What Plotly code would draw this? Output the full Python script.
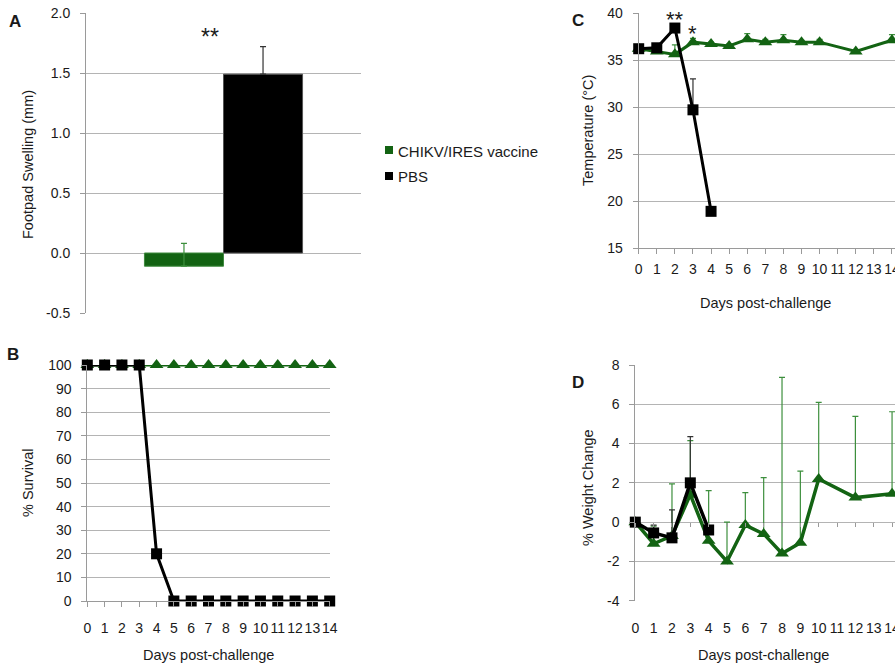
import plotly.graph_objects as go

W, H = 895, 668
GREEN = "#136313"
GREEN_ERR = "#3d8f3d"
BLACK = "#000000"
GRID = "#b4b4b4"
AXIS = "#9a9a9a"
TXT = "#1a1a1a"
FONT = "Liberation Sans, Arial, sans-serif"

# ---------------- data ----------------
group_names = ["CHIKV/IRES vaccine", "PBS"]
footpad_mean = [-0.11, 1.49]
footpad_err = [0.19, 0.23]
footpad_ticks = [-0.5, 0.0, 0.5, 1.0, 1.5, 2.0]
footpad_labels = ["-0.5", "0.0", "0.5", "1.0", "1.5", "2.0"]

survival_days = [0, 1, 2, 3, 4, 5, 6, 7, 8, 9, 10, 11, 12, 13, 14]
survival_vaccine = [100, 100, 100, 100, 100, 100, 100, 100, 100, 100, 100, 100, 100, 100, 100]
survival_pbs = [100, 100, 100, 100, 20, 0, 0, 0, 0, 0, 0, 0, 0, 0, 0]

day_ticks = [0, 1, 2, 3, 4, 5, 6, 7, 8, 9, 10, 11, 12, 13, 14]
day_labels = ["0", "1", "2", "3", "4", "5", "6", "7", "8", "9", "10", "11", "12", "13", "14"]

vaccine_days = [0, 1, 2, 3, 4, 5, 6, 7, 8, 9, 10, 12, 14]
pbs_days = [0, 1, 2, 3, 4]

temp_vaccine = [36.2, 35.9, 35.6, 36.9, 36.7, 36.5, 37.2, 36.9, 37.1, 36.9, 36.9, 35.9, 37.1]
temp_vaccine_err = [0.2, 0.2, 1.0, 0.4, 0.2, 0.2, 0.6, 0.3, 0.6, 0.2, 0.3, 0.2, 0.6]
temp_pbs = [36.2, 36.3, 38.4, 29.7, 18.9]
temp_pbs_err = [0.1, 0.2, 0.2, 3.3, 0.0]

weight_vaccine = [0.0, -1.1, -0.7, 1.4, -0.95, -2.0, -0.15, -0.6, -1.6, -1.05, 2.2, 1.25, 1.45]
weight_vaccine_err = [0.0, 0.9, 2.65, 2.75, 2.55, 2.0, 1.65, 2.87, 8.97, 3.65, 3.9, 4.13, 4.17]
weight_pbs = [0.0, -0.55, -0.8, 2.0, -0.4]
weight_pbs_err = [0.0, 0.4, 1.42, 2.35, 0.0]
weight_ticks = [-4, -2, 0, 2, 4, 6, 8]
weight_labels = ["-4", "-2", "0", "2", "4", "6", "8"]

# ---------------- layout helpers ----------------
def dx(a, b):
    return [a / W, min(b / W, 1.0)]

def dy(top, bottom):
    return [1 - bottom / H, 1 - top / H]

A_x, A_y = dx(86, 361), dy(13, 313)
B_x, B_y = dx(87.3, 329.7), dy(365, 601)
C_x, C_y = dx(638.7, 895), dy(13, 248)
D_x, D_y = dx(635.3, 895), dy(365, 600.7)

fig = go.Figure()

# Panel A bars
bar_colors = [GREEN, BLACK]
bar_lines = ["#3f8a3f", "#555555"]
err_colors = [GREEN_ERR, "#333333"]
for i, name in enumerate(group_names):
    fig.add_trace(go.Bar(
        x=["Footpad"], y=[footpad_mean[i]], name=name,
        marker=dict(color=bar_colors[i], line=dict(color=bar_lines[i], width=1)),
        error_y=dict(type="data", symmetric=False, array=[footpad_err[i]], arrayminus=[0],
                     color=err_colors[i], thickness=1.2, width=3),
        xaxis="x", yaxis="y", showlegend=False))

TRI = dict(symbol="triangle-up", size=12, color=GREEN)
SQ = dict(symbol="square", size=11, color=BLACK)

# Panel B survival
fig.add_trace(go.Scatter(x=survival_days, y=survival_vaccine, mode="lines+markers",
                         line=dict(color=GREEN, width=3), marker=TRI,
                         xaxis="x2", yaxis="y2", cliponaxis=False, showlegend=False))
fig.add_trace(go.Scatter(x=survival_days, y=survival_pbs, mode="lines+markers",
                         line=dict(color=BLACK, width=3), marker=SQ,
                         xaxis="x2", yaxis="y2", cliponaxis=False, showlegend=False))

# Panel C temperature
fig.add_trace(go.Scatter(x=vaccine_days, y=temp_vaccine, mode="lines+markers",
                         line=dict(color=GREEN, width=3), marker=TRI,
                         error_y=dict(type="data", symmetric=False, array=temp_vaccine_err,
                                      arrayminus=[0] * len(temp_vaccine_err),
                                      color=GREEN_ERR, thickness=1.2, width=3),
                         xaxis="x3", yaxis="y3", cliponaxis=False, showlegend=False))
fig.add_trace(go.Scatter(x=pbs_days, y=temp_pbs, mode="lines+markers",
                         line=dict(color=BLACK, width=3), marker=SQ,
                         error_y=dict(type="data", symmetric=False, array=temp_pbs_err,
                                      arrayminus=[0] * len(temp_pbs_err),
                                      color="#333333", thickness=1.2, width=3),
                         xaxis="x3", yaxis="y3", cliponaxis=False, showlegend=False))

# Panel D weight
fig.add_trace(go.Scatter(x=vaccine_days, y=weight_vaccine, mode="lines+markers",
                         line=dict(color=GREEN, width=3.5), marker=TRI,
                         error_y=dict(type="data", symmetric=False, array=weight_vaccine_err,
                                      arrayminus=[0] * len(weight_vaccine_err),
                                      color=GREEN_ERR, thickness=1.2, width=3),
                         xaxis="x4", yaxis="y4", cliponaxis=False, showlegend=False))
fig.add_trace(go.Scatter(x=pbs_days, y=weight_pbs, mode="lines+markers",
                         line=dict(color=BLACK, width=3.5), marker=SQ,
                         error_y=dict(type="data", symmetric=False, array=weight_pbs_err,
                                      arrayminus=[0] * len(weight_pbs_err),
                                      color="#333333", thickness=1.2, width=3),
                         xaxis="x4", yaxis="y4", cliponaxis=False, showlegend=False))
# invisible trace to carry the zero-crossing tick axis of panel D
fig.add_trace(go.Scatter(x=day_ticks, y=[0] * len(day_ticks), mode="markers",
                         marker=dict(opacity=0), hoverinfo="skip",
                         xaxis="x5", yaxis="y4", showlegend=False))

tickfont = dict(family=FONT, size=14, color=TXT)

def yax(domain, rng, anchor, tickvals=None, ticktext=None, dtick=None):
    d = dict(domain=domain, range=rng, anchor=anchor, automargin=False,
             showline=True, linecolor=AXIS, linewidth=1,
             showgrid=True, gridcolor=GRID, gridwidth=1,
             ticks="outside", ticklen=5, tickcolor=AXIS,
             zeroline=False, tickfont=tickfont, ticklabelstandoff=7)
    if tickvals is not None:
        d["tickvals"] = tickvals
        d["ticktext"] = ticktext
    else:
        d["dtick"] = dtick
    return d

C_range = [0, (895 - 638.7) / 18.09]
D_range = [0, (895 - 635.3) / 18.34]

D_zero_pos = D_y[0] + (0 - (-4)) / 12 * (D_y[1] - D_y[0])

def xday(domain, rng, anchor, standoff, line=True, ticks="outside"):
    return dict(domain=domain, range=rng, anchor=anchor, tickvals=day_ticks, ticktext=day_labels,
                tickangle=0, showline=line, linecolor=AXIS, showgrid=False, ticks=ticks,
                ticklen=5, tickcolor=AXIS, zeroline=False, tickfont=tickfont,
                ticklabelstandoff=standoff, automargin=False, ticklabeloverflow="allow")

fig.update_layout(
    width=W, height=H, margin=dict(l=0, r=0, t=0, b=0, autoexpand=False),
    paper_bgcolor="white", plot_bgcolor="white",
    barmode="group", bargap=0.425, bargroupgap=0,
    font=dict(family=FONT, size=14, color=TXT),
    xaxis=dict(domain=A_x, range=[-0.5, 0.5], anchor="y", showticklabels=False, automargin=False,
               showgrid=False, showline=False, ticks="", zeroline=False),
    yaxis=yax(A_y, [-0.5, 2.0], "x", footpad_ticks, footpad_labels),
    xaxis2=xday(B_x, [0, 14], "y2", 9),
    yaxis2=yax(B_y, [0, 100], "x2", dtick=10),
    xaxis3=xday(C_x, C_range, "y3", 3),
    yaxis3=yax(C_y, [15, 40], "x3", dtick=5),
    xaxis4=xday(D_x, D_range, "y4", 17, line=False, ticks=""),
    xaxis5=dict(overlaying="x4", anchor="free", position=D_zero_pos, range=D_range,
                tickvals=day_ticks, showticklabels=False, showline=False, showgrid=False,
                ticks="outside", ticklen=4, tickcolor=AXIS, zeroline=False, automargin=False),
    yaxis4=yax(D_y, [-4, 8], "x4", weight_ticks, weight_labels),
)

ann = []
def text(x, y, s, size=14, bold=False, angle=0, xanchor="center", xref="paper", yref="paper"):
    ann.append(dict(x=x, y=y, xref=xref, yref=yref, text=("<b>%s</b>" % s if bold else s),
                    showarrow=False, textangle=angle, xanchor=xanchor, yanchor="middle",
                    font=dict(family=FONT, size=size, color=TXT)))

# panel letters
text(15 / W, 1 - 22 / H, "A", size=17, bold=True)
text(13 / W, 1 - 354 / H, "B", size=17, bold=True)
text(578 / W, 1 - 20 / H, "C", size=17, bold=True)
text(578 / W, 1 - 382 / H, "D", size=17, bold=True)

# axis titles
text(28 / W, 1 - 165 / H, "Footpad Swelling (mm)", size=14.5, angle=-90)
text(28 / W, 1 - 483 / H, "% Survival", size=14.5, angle=-90)
text(588 / W, 1 - 131 / H, "Temperature (°C)", size=14.5, angle=-90)
text(588 / W, 1 - 488 / H, "% Weight Change", size=14.5, angle=-90)
text(208.5 / W, 1 - 655 / H, "Days post-challenge", size=14.5)
text(765 / W, 1 - 303 / H, "Days post-challenge", size=14.5)
text(763 / W, 1 - 655 / H, "Days post-challenge", size=14.5)

# significance stars
text(210 / W, 1 - 37 / H, "**", size=23)
text(2, 39.35, "**", size=22, xref="x3", yref="y3")
text(3, 37.8, "*", size=22, xref="x3", yref="y3")

# legend text
text(396 / W, 1 - 151 / H, group_names[0], size=15, xanchor="left")
text(396 / W, 1 - 176 / H, group_names[1], size=15, xanchor="left")
fig.update_layout(annotations=ann)

# legend swatches
fig.add_shape(type="rect", xref="paper", yref="paper", x0=385 / W, x1=393 / W,
              y0=1 - 154 / H, y1=1 - 146 / H, fillcolor=GREEN, line=dict(width=0))
fig.add_shape(type="rect", xref="paper", yref="paper", x0=385 / W, x1=393 / W,
              y0=1 - 180 / H, y1=1 - 172 / H, fillcolor=BLACK, line=dict(width=0))

fig.write_html("out.html")
